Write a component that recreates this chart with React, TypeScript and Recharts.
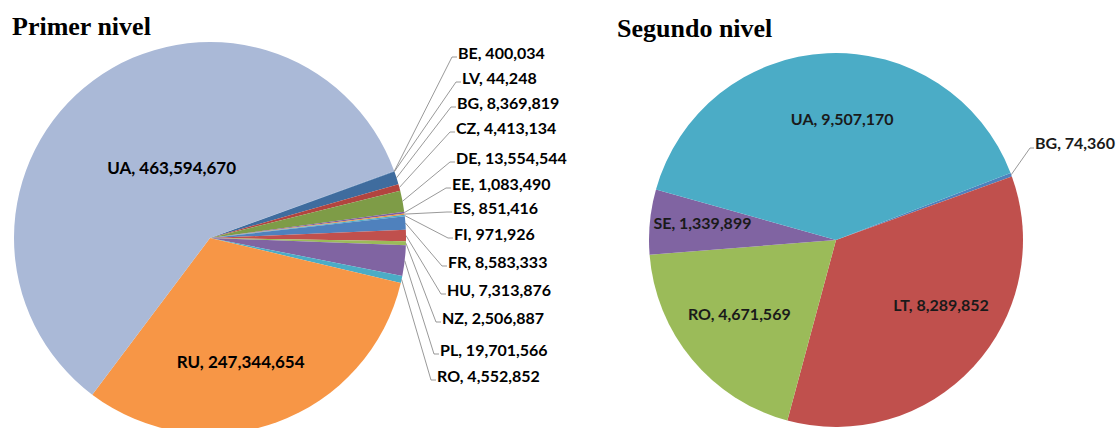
import React from 'react';
import { PieChart, Pie, Cell } from 'recharts';

// ---- data ----
const names1 = ['BE', 'LV', 'BG', 'CZ', 'DE', 'EE', 'ES', 'FI', 'FR', 'HU', 'NZ', 'PL', 'RO', 'RU', 'UA'];
const values1 = [400034, 44248, 8369819, 4413134, 13554544, 1083490, 851416, 971926, 8583333, 7313876, 2506887, 19701566, 4552852, 247344654, 463594670];
const names2 = ['BG', 'LT', 'RO', 'SE', 'UA'];
const values2 = [74360, 8289852, 4671569, 1339899, 9507170];
const title1 = 'Primer nivel';
const title2 = 'Segundo nivel';

// ---- styles / layout ----
const colors1 = ['#4A7EBB', '#C0504D', '#3F6C9E', '#B2443F', '#7E9C47', '#7C5EA0', '#F0903E', '#4BACC6', '#4F81BD', '#C0504D', '#9BBB59', '#8064A2', '#4BACC6', '#F79646', '#AAB9D7'];
const colors2 = ['#4F81BD', '#C0504D', '#9BBB59', '#8064A2', '#4BACC6'];
// outside label slots (left x, centre y) for the small slices of the first pie
const slotX1 = [458, 462, 457, 456, 456, 452, 453, 454, 448, 447, 442, 440, 437];
const slotY1 = [52, 77, 102, 127, 157, 183, 207, 233, 261, 289, 317, 349, 375];
// inside label placement: [radius fraction, angle shift in degrees]
const inside1: Record<string, [number, number]> = { UA: [0.41, -8], RU: [0.65, -6] };
const inside2: Record<string, [number, number]> = { UA: [0.65, -5.6], LT: [0.66, 11], RO: [0.65, -2.4], SE: [0.72, -1.7] };

const FONT = 'Lato, "Open Sans", sans-serif';
const RAD = Math.PI / 180;

const data1 = names1.map((n, i) => ({ name: n, value: values1[i] }));
const data2 = names2.map((n, i) => ({ name: n, value: values2[i] }));
const fmt = (v: number) => v.toLocaleString('en-US');

const polar = (cx: number, cy: number, r: number, a: number) => ({
  x: cx + r * Math.cos(-a * RAD),
  y: cy + r * Math.sin(-a * RAD),
});

const label1 = (p: any) => {
  const { cx, cy, midAngle, outerRadius, index } = p;
  const name = names1[index];
  const text = `${name}, ${fmt(values1[index])}`;
  if (inside1[name]) {
    const [f, da] = inside1[name];
    const pt = polar(cx, cy, outerRadius * f, midAngle + da);
    return (
      <text key={`l1-${index}`} x={pt.x} y={pt.y} textAnchor="middle" dominantBaseline="central"
        fontFamily={FONT} fontWeight={700} fontSize={17} fill="#000">{text}</text>
    );
  }
  const lx = slotX1[index];
  const ly = slotY1[index];
  const a = polar(cx, cy, outerRadius, midAngle);
  return (
    <g key={`l1-${index}`}>
      <path d={`M${a.x},${a.y}L${lx - 6},${ly + 5}L${lx - 1},${ly + 5}`} stroke="#7f7f7f" strokeWidth={0.8} fill="none" />
      <text x={lx} y={ly} textAnchor="start" dominantBaseline="central"
        fontFamily={FONT} fontWeight={700} fontSize={16} fill="#000">{text}</text>
    </g>
  );
};

const label2 = (p: any) => {
  const { cx, cy, midAngle, outerRadius, index } = p;
  const name = names2[index];
  const text = `${name}, ${fmt(values2[index])}`;
  if (inside2[name]) {
    const [f, da] = inside2[name];
    const pt = polar(cx, cy, outerRadius * f, midAngle + da);
    return (
      <text key={`l2-${index}`} x={pt.x} y={pt.y} textAnchor="middle" dominantBaseline="central"
        fontFamily={FONT} fontWeight={700} fontSize={16} fill="#1a1a1a">{text}</text>
    );
  }
  const a = polar(cx, cy, outerRadius, midAngle);
  const lx = cx + outerRadius + 12;
  const ly = cy - 98;
  return (
    <g key={`l2-${index}`}>
      <path d={`M${a.x},${a.y}L${lx - 5},${ly + 6}L${lx - 1},${ly + 6}`} stroke="#7f7f7f" strokeWidth={0.8} fill="none" />
      <text x={lx} y={ly} textAnchor="start" dominantBaseline="central"
        fontFamily={FONT} fontWeight={700} fontSize={16} fill="#1a1a1a">{text}</text>
    </g>
  );
};

const titleStyle: React.CSSProperties = {
  position: 'absolute',
  fontFamily: '"Liberation Serif", "Times New Roman", serif',
  fontWeight: 700,
  fontSize: 26,
  lineHeight: '26px',
  color: '#000',
  whiteSpace: 'nowrap',
};

export default function App() {
  return (
    <div style={{ position: 'absolute', left: 0, top: 0, width: 1120, height: 428, overflow: 'hidden', background: '#fff' }}>
      <PieChart width={1120} height={428} margin={{ top: 0, right: 0, bottom: 0, left: 0 }}>
        <Pie data={data1} dataKey="value" nameKey="name" cx={210} cy={238} outerRadius={196}
          startAngle={20} endAngle={-340} stroke="none" isAnimationActive={false}
          label={label1} labelLine={false}>
          {data1.map((d, i) => <Cell key={d.name} fill={colors1[i]} />)}
        </Pie>
        <Pie data={data2} dataKey="value" nameKey="name" cx={836} cy={240} outerRadius={187}
          startAngle={21} endAngle={-339} stroke="none" isAnimationActive={false}
          label={label2} labelLine={false}>
          {data2.map((d, i) => <Cell key={d.name} fill={colors2[i]} />)}
        </Pie>
      </PieChart>
      <div style={{ ...titleStyle, left: 12, top: 14 }}>{title1}</div>
      <div style={{ ...titleStyle, left: 617, top: 16 }}>{title2}</div>
    </div>
  );
}
